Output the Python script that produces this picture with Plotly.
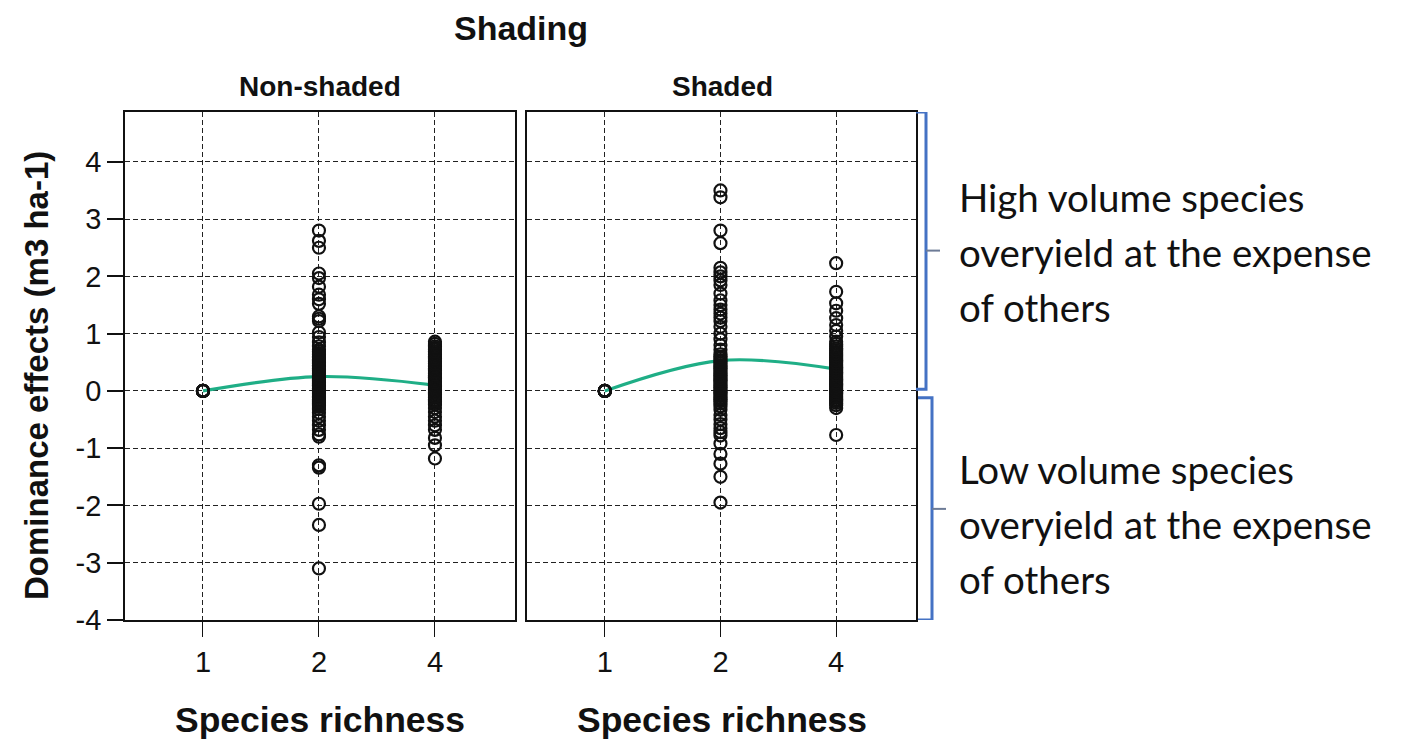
import plotly.graph_objects as go

# Species richness levels (categorical x axis)
richness = ["1", "2", "4"]

# Dominance effects (m3 ha-1) per plot, non-shaded treatment
nonshaded_r1 = [0, 0, 0, 0, 0, 0, 0, 0]
nonshaded_r2 = [2.8, 2.62, 2.5, 2.05, 1.97, 1.82, 1.68, 1.6, 1.52, 1.3, 1.26, 1.22,
                1.02, 0.94, 0.85, 0.78, 0.72, 0.69, 0.66, 0.63, 0.6, 0.58, 0.55,
                0.53, 0.5, 0.48, 0.45, 0.43, 0.4, 0.38, 0.35, 0.33, 0.3, 0.28,
                0.25, 0.23, 0.2, 0.18, 0.15, 0.13, 0.1, 0.08, 0.05, 0.03, 0.0,
                -0.02, -0.05, -0.07, -0.1, -0.12, -0.15, -0.17, -0.2, -0.22,
                -0.25, -0.28, -0.32, -0.38, -0.45, -0.52, -0.6, -0.68, -0.76,
                -0.8, -1.3, -1.34, -1.97, -2.34, -3.1]
nonshaded_r4 = [0.86, 0.82, 0.78, 0.75, 0.72, 0.69, 0.66, 0.63, 0.6, 0.57, 0.54,
                0.51, 0.48, 0.45, 0.42, 0.39, 0.36, 0.33, 0.3, 0.27, 0.24, 0.22,
                0.19, 0.16, 0.13, 0.1, 0.08, 0.05, 0.02, 0.0, -0.03, -0.06, -0.09,
                -0.12, -0.15, -0.18, -0.21, -0.24, -0.3, -0.37, -0.45, -0.52,
                -0.6, -0.68, -0.82, -0.95, -1.18]

# Dominance effects (m3 ha-1) per plot, shaded treatment
shaded_r1 = [0, 0, 0, 0, 0, 0, 0, 0]
shaded_r2 = [3.5, 3.38, 2.8, 2.58, 2.15, 2.07, 2.0, 1.93, 1.85, 1.7, 1.58, 1.5,
             1.42, 1.35, 1.28, 1.22, 1.12, 1.0, 0.9, 0.8, 0.72, 0.64, 0.6, 0.57,
             0.54, 0.51, 0.48, 0.45, 0.42, 0.39, 0.36, 0.33, 0.3, 0.27, 0.24,
             0.21, 0.18, 0.15, 0.12, 0.09, 0.06, 0.03, 0.0, -0.03, -0.06, -0.09,
             -0.12, -0.15, -0.18, -0.22, -0.27, -0.33, -0.42, -0.5, -0.58,
             -0.65, -0.72, -0.78, -0.92, -1.1, -1.27, -1.5, -1.95]
shaded_r4 = [2.23, 1.73, 1.53, 1.4, 1.27, 1.15, 1.05, 0.95, 0.86, 0.82, 0.78,
             0.74, 0.71, 0.68, 0.65, 0.62, 0.59, 0.56, 0.53, 0.5, 0.47, 0.44,
             0.41, 0.38, 0.35, 0.32, 0.29, 0.26, 0.23, 0.2, 0.17, 0.14, 0.11,
             0.08, 0.05, 0.02, 0.0, -0.03, -0.06, -0.09, -0.12, -0.15, -0.18,
             -0.21, -0.25, -0.3, -0.77]

# Fitted trend (smoothed) at each richness level
fit_nonshaded = [0.0, 0.25, 0.1]
fit_shaded = [0.0, 0.53, 0.38]

# Y tick labels drawn with a plain hyphen for negatives
y_ticks = [-4, -3, -2, -1, 0, 1, 2, 3, 4]
y_ticktext = ["-4", "-3", "-2", "-1", "0", "1", "2", "3", "4"]

BLACK = "#111111"
GREEN = "#1fae86"
BLUE = "#4472c4"
FONT = "Liberation Sans, Arial, sans-serif"
W, H = 1404, 742


def px(x):
    return x / W


def py(y):
    return 1 - y / H


def scatter(groups, xa, ya):
    xs, ys = [], []
    for cat, vals in zip(richness, groups):
        xs += [cat] * len(vals)
        ys += vals
    return go.Scatter(
        x=xs, y=ys, xaxis=xa, yaxis=ya, mode="markers", showlegend=False,
        marker=dict(symbol="circle-open", size=12, color=BLACK,
                    line=dict(width=2.2, color=BLACK)),
    )


def fit(vals, xa, ya):
    return go.Scatter(
        x=richness, y=vals, xaxis=xa, yaxis=ya, mode="lines", showlegend=False,
        line=dict(color=GREEN, width=3.2, shape="spline", smoothing=1.0),
    )


fig = go.Figure()
fig.add_trace(fit(fit_nonshaded, "x", "y"))
fig.add_trace(scatter([nonshaded_r1, nonshaded_r2, nonshaded_r4], "x", "y"))
fig.add_trace(fit(fit_shaded, "x2", "y2"))
fig.add_trace(scatter([shaded_r1, shaded_r2, shaded_r4], "x2", "y2"))

xr = [-0.672, 2.69]
yr = [-4, 4.87]
grid = dict(showgrid=True, gridcolor="#222222", gridwidth=1, griddash="5px,3px",
            zeroline=False, showline=True, linecolor=BLACK, linewidth=1.8,
            mirror=True)
tickfont = dict(family=FONT, size=29, color=BLACK)

xcommon = dict(type="category", categoryorder="array", categoryarray=richness,
               range=xr, ticks="outside", ticklen=15, tickwidth=1.4,
               tickcolor=BLACK, tickfont=tickfont, **grid)
fig.update_layout(
    width=W, height=H, margin=dict(l=0, r=0, t=0, b=0, autoexpand=False),
    paper_bgcolor="white", plot_bgcolor="white",
    xaxis=dict(domain=[px(125), px(515)], anchor="y", **xcommon),
    xaxis2=dict(domain=[px(527), px(916)], anchor="y2", **xcommon),
    yaxis=dict(domain=[py(620), py(112)], anchor="x", range=yr,
               tickvals=y_ticks, ticktext=y_ticktext, ticks="outside", ticklen=16,
               tickwidth=1.6, tickcolor=BLACK, tickfont=tickfont, **grid),
    yaxis2=dict(domain=[py(620), py(112)], anchor="x2", range=yr,
                tickvals=y_ticks, showticklabels=False, ticks="", **grid),
)

bold = dict(family=FONT, color=BLACK)
ann = []
ann.append(dict(text="<b>Shading</b>", x=px(521), y=py(28), font=dict(size=34, **bold)))
ann.append(dict(text="<b>Non-shaded</b>", x=px(320), y=py(87), font=dict(size=28, **bold)))
ann.append(dict(text="<b>Shaded</b>", x=px(722), y=py(87), font=dict(size=28, **bold)))
ann.append(dict(text="<b>Species richness</b>", x=px(320), y=py(720), font=dict(size=35.5, **bold)))
ann.append(dict(text="<b>Species richness</b>", x=px(722), y=py(720), font=dict(size=35.5, **bold)))
ann.append(dict(text="<b>Dominance effects (m3 ha-1)</b>", x=px(37), y=py(376),
                textangle=-90, font=dict(size=33, **bold)))

side_font = dict(family="Lato, Carlito, sans-serif", size=38.5, color="#111111")
upper_lines = ["High volume species", "overyield at the expense", "of others"]
lower_lines = ["Low volume species", "overyield at the expense", "of others"]
for i, line in enumerate(upper_lines):
    ann.append(dict(text=line, x=px(957), y=py(197 + 55 * i), xanchor="left",
                    font=side_font))
for i, line in enumerate(lower_lines):
    ann.append(dict(text=line, x=px(957), y=py(469 + 55 * i), xanchor="left",
                    font=side_font))
for a in ann:
    a.setdefault("xanchor", "center")
    a.update(xref="paper", yref="paper", yanchor="middle", showarrow=False)
fig.update_layout(annotations=ann)


# Brackets marking the positive and negative halves of the y scale
def bracket(x_stem, x_in, y0, y1, tick_len):
    ym = (y0 + y1) / 2
    return [
        dict(type="path", xref="paper", yref="y2",
             path=f"M {px(x_in)},{y1} L {px(x_stem)},{y1} L {px(x_stem)},{y0} "
                  f"L {px(x_in)},{y0}",
             line=dict(color=BLUE, width=3)),
        dict(type="line", xref="paper", yref="y2", x0=px(x_stem), x1=px(x_stem + tick_len),
             y0=ym, y1=ym, line=dict(color="#6d7b96", width=2)),
    ]


shapes = bracket(926, 916, 0.03, 4.87, 14) + bracket(932, 918, -4, -0.12, 14)
fig.update_layout(shapes=shapes)

fig.write_html("out.html")
